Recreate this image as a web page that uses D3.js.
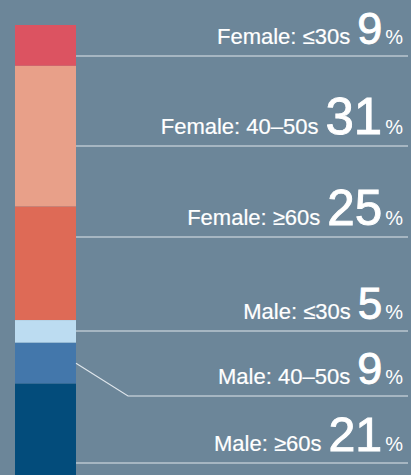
<!DOCTYPE html>
<html>
<head>
<meta charset="utf-8">
<script src="https://cdn.jsdelivr.net/npm/d3@7"></script>
<style>
  html, body { margin: 0; padding: 0; background: #6c8699; }
  svg { display: block; }
</style>
</head>
<body>
<svg width="411" height="475"></svg>
<script>
const groups = ['Female: ≤30s', 'Female: 40–50s', 'Female: ≥60s', 'Male: ≤30s', 'Male: 40–50s', 'Male: ≥60s'];
const shares = [9, 31, 25, 5, 9, 21];
const colors = ['#dc5361', '#e8a089', '#de6a56', '#bcdcf1', '#4377ab', '#034c7b'];

// where each label's underline sits (px), picked to keep labels apart
const labelLineY = [56, 146, 237, 331, 396, 463];

const barX = 15, barW = 61;
const lineEnd = 408;
const elbowX = 128;

const svg = d3.select('svg');

const stack = [];
let acc = 0;
shares.forEach((v, i) => {
  stack.push({group: groups[i], value: v, y0: acc, y1: acc + v, color: colors[i], lineY: labelLineY[i]});
  acc += v;
});

const y = d3.scaleLinear().domain([0, 100]).range([25, 479]);
const numSize = d3.scaleLinear().domain([5, 31]).range([44, 51]);

svg.append('g')
  .selectAll('rect')
  .data(stack)
  .enter()
  .append('rect')
  .attr('x', barX)
  .attr('width', barW)
  .attr('y', d => y(d.y0))
  .attr('height', d => y(d.y1) - y(d.y0))
  .attr('fill', d => d.color);

// connector lines: straight if the label line falls inside the segment, else bend from the middle
svg.append('g')
  .selectAll('path')
  .data(stack)
  .enter()
  .append('path')
  .attr('d', d => {
    const top = y(d.y0), bot = y(d.y1);
    if (d.lineY >= top && d.lineY <= bot) {
      return `M${barX + barW},${d.lineY}H${lineEnd}`;
    }
    const mid = (top + bot) / 2;
    return `M${barX + barW},${mid}L${elbowX},${d.lineY}H${lineEnd}`;
  })
  .attr('fill', 'none')
  .attr('stroke', '#dfe6ec')
  .attr('stroke-width', 1.2);

const labels = svg.append('g')
  .selectAll('text')
  .data(stack)
  .enter()
  .append('text')
  .attr('x', 403)
  .attr('y', d => d.lineY - 12)
  .attr('text-anchor', 'end')
  .attr('font-family', 'Liberation Sans, Arial, Helvetica, sans-serif')
  .attr('fill', '#ffffff');

labels.append('tspan')
  .attr('font-size', 22)
  .attr('stroke', '#ffffff')
  .attr('stroke-width', 0.2)
  .text(d => d.group);

// numbers look a touch heavier than plain regular
labels.append('tspan')
  .attr('dx', 7)
  .attr('font-size', d => numSize(d.value))
  .attr('stroke', '#ffffff')
  .attr('stroke-width', 0.9)
  .text(d => d.value);

labels.append('tspan')
  .attr('dx', 3)
  .attr('font-size', 20)
  .text('%');
</script>
</body>
</html>
